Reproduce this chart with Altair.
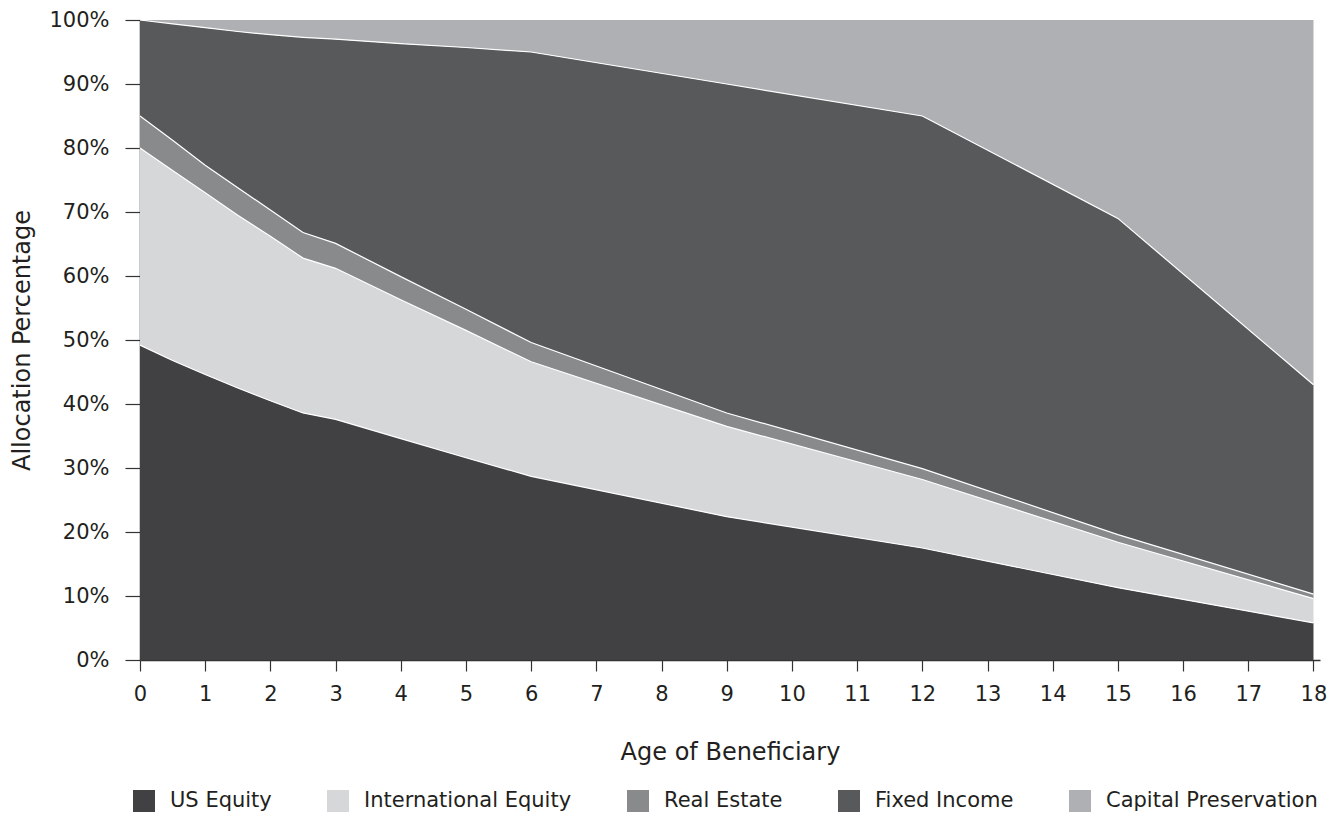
import altair as alt
import pandas as pd

ages = [0, 0.5, 1, 1.5, 2, 2.5, 3, 4, 5, 6, 9, 12, 15, 18]
us_equity = [49.2, 46.8, 44.6, 42.5, 40.5, 38.6, 37.6, 34.6, 31.6, 28.7, 22.4, 17.5, 11.3, 5.8]
intl_equity = [30.8, 29.7, 28.4, 27.0, 25.7, 24.2, 23.6, 21.7, 19.9, 17.9, 14.1, 10.7, 7.1, 3.8]
real_estate = [5.0, 4.7, 4.3, 4.3, 4.1, 4.0, 3.9, 3.6, 3.3, 3.0, 2.1, 1.7, 1.2, 0.7]
fixed_income = [15.0, 18.2, 21.5, 24.4, 27.4, 30.5, 31.9, 36.4, 40.9, 45.4, 51.4, 55.1, 49.4, 32.7]
capital_pres = [0.0, 0.6, 1.2, 1.8, 2.3, 2.7, 3.0, 3.7, 4.3, 5.0, 10.0, 15.0, 31.0, 57.0]

categories = ["US Equity", "International Equity", "Real Estate", "Fixed Income", "Capital Preservation"]
colors = ["#414042", "#d6d7d9", "#898a8c", "#58595b", "#afb0b3"]
series = [us_equity, intl_equity, real_estate, fixed_income, capital_pres]

x_ticks = [i * 0.5 for i in range(37)]
y_ticks = list(range(0, 101, 10))

rows = []
for k, (name, vals) in enumerate(zip(categories, series)):
    for a, v in zip(ages, vals):
        rows.append({"age": a, "value": v, "asset": name, "order": k})
df = pd.DataFrame(rows)

FONT = "DejaVu Sans"
TEXT = "#231f20"

x_scale = alt.Scale(domain=[0, 18.1], nice=False, zero=False)
y_scale = alt.Scale(domain=[0, 100], nice=False)

x_enc = alt.X(
    "age:Q",
    scale=x_scale,
    axis=alt.Axis(
        values=x_ticks,
        labelExpr="datum.value % 1 == 0 ? format(datum.value, 'd') : ''",
        labelFlush=False,
        labelOverlap=False,
        title="Age of Beneficiary",
        grid=False,
        tickSize=11,
        labelPadding=12,
        titlePadding=36,
    ),
)

areas = alt.Chart(df).mark_area(opacity=1).encode(
    x=x_enc,
    y=alt.Y(
        "value:Q",
        stack="zero",
        scale=y_scale,
        axis=alt.Axis(
            values=y_ticks,
            labelExpr="datum.value + '%'",
            title="Allocation Percentage",
            grid=False,
            tickSize=15,
            labelPadding=16,
            titlePadding=14,
        ),
    ),
    color=alt.Color(
        "asset:N",
        scale=alt.Scale(domain=categories, range=colors),
        sort=categories,
        legend=alt.Legend(
            title=None,
            orient="none",
            legendX=-7,
            legendY=770,
            direction="horizontal",
            symbolType="square",
            symbolSize=484,
            symbolStrokeWidth=0,
            labelFontSize=21,
            labelFont=FONT,
            labelColor=TEXT,
            labelOffset=15,
            labelLimit=0,
            columnPadding=55,
        ),
    ),
    order=alt.Order("order:Q", sort="ascending"),
)

lines = alt.Chart(df).transform_filter(
    alt.datum.asset != "Capital Preservation"
).mark_line(color="white", strokeWidth=1.2).encode(
    x=alt.X("age:Q", scale=x_scale),
    y=alt.Y("value:Q", stack="zero", scale=y_scale),
    detail="asset:N",
    order=alt.Order("age:Q"),
)

chart = (
    alt.layer(areas, lines)
    .properties(
        width=1180,
        height=640,
        autosize=alt.AutoSizeParams(type="none"),
        padding={"left": 132, "top": 12, "right": 8, "bottom": 166},
    )
    .configure_view(stroke=None)
    .configure_axis(
        labelFont=FONT,
        titleFont=FONT,
        labelFontSize=21,
        titleFontSize=24,
        titleFontWeight="normal",
        labelColor=TEXT,
        titleColor=TEXT,
        domainColor="#333333",
        tickColor="#333333",
        domainWidth=1.5,
        tickWidth=1.2,
    )
)

chart.save("out.html", embed_options={"renderer": "svg", "actions": False})
